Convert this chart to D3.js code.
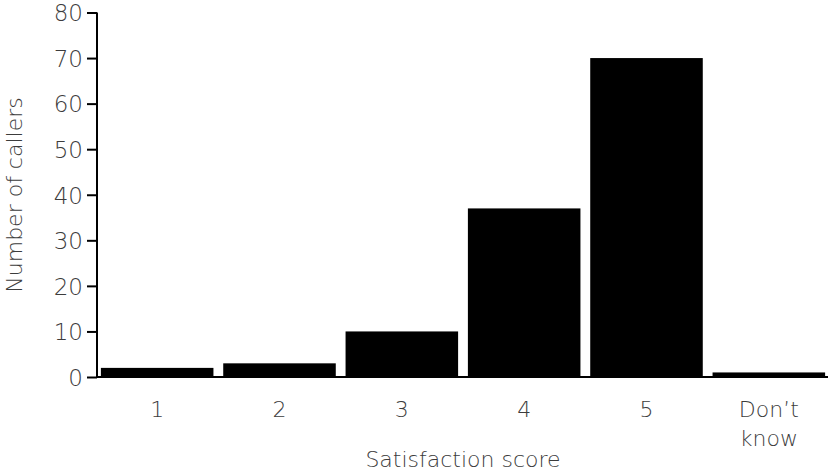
<!DOCTYPE html>
<html>
<head>
<meta charset="utf-8">
<script src="https://cdn.jsdelivr.net/npm/d3@7"></script>
<style>
  html, body { margin: 0; padding: 0; background: #fff; }
  svg { display: block; }
  text { font-family: "DejaVu Sans", "Lato", sans-serif; font-weight: 200; fill: #3c3c3c; }
</style>
</head>
<body>
<svg id="chart" width="831" height="473"></svg>
<script>
const categories = ["1", "2", "3", "4", "5", "Don\u2019t know"];
const callers = [2, 3, 10, 37, 70, 1];
const yTicks = [0, 10, 20, 30, 40, 50, 60, 70, 80];

const svg = d3.select("#chart");
const x = d3.scaleBand().domain(categories).range([96, 830]).paddingInner(0.08).paddingOuter(0.04);
const y = d3.scaleLinear().domain([0, 80]).range([377, 12.5]);

svg.append("g").selectAll("rect").data(categories).join("rect")
  .attr("x", d => x(d))
  .attr("width", x.bandwidth())
  .attr("y", (d, i) => y(callers[i]))
  .attr("height", (d, i) => y(0) - y(callers[i]))
  .attr("fill", "#000");

// y axis
const yAxis = svg.append("g").attr("transform", "translate(97,0)")
  .call(d3.axisLeft(y).tickValues(yTicks).tickSize(10).tickPadding(4));
yAxis.select(".domain").attr("stroke", "#000").attr("stroke-width", 2).attr("d", `M0,${y(80)}V${y(0)}`);
yAxis.selectAll(".tick line").attr("stroke", "#000").attr("stroke-width", 2);
yAxis.selectAll(".tick text").style("font-size", "23px").style("font-family", "DejaVu Sans, sans-serif")
  .style("font-weight", 200).attr("fill", "#3c3c3c").attr("dy", "0.36em");

// x axis
const xAxis = svg.append("g").attr("transform", `translate(0,${y(0)})`)
  .call(d3.axisBottom(x).tickSize(0).tickPadding(0));
xAxis.select(".domain").attr("stroke", "#000").attr("stroke-width", 2).attr("d", `M96,0H828`);
xAxis.selectAll(".tick text").remove();
xAxis.selectAll(".tick").each(function(d) {
  const t = d3.select(this).append("text")
    .attr("text-anchor", "middle")
    .style("font-size", "22px");
  const parts = d === "Don\u2019t know" ? ["Don\u2019t", "know"] : [d];
  parts.forEach((p, i) => t.append("tspan").attr("x", 0).attr("y", 40 + i * 29).text(p));
});

svg.append("text").attr("x", 463).attr("y", 467).attr("text-anchor", "middle")
  .style("font-size", "22px").text("Satisfaction score");
svg.append("text").attr("transform", "translate(22,195) rotate(-90)").attr("text-anchor", "middle")
  .style("font-size", "22px").text("Number of callers");
</script>
</body>
</html>
